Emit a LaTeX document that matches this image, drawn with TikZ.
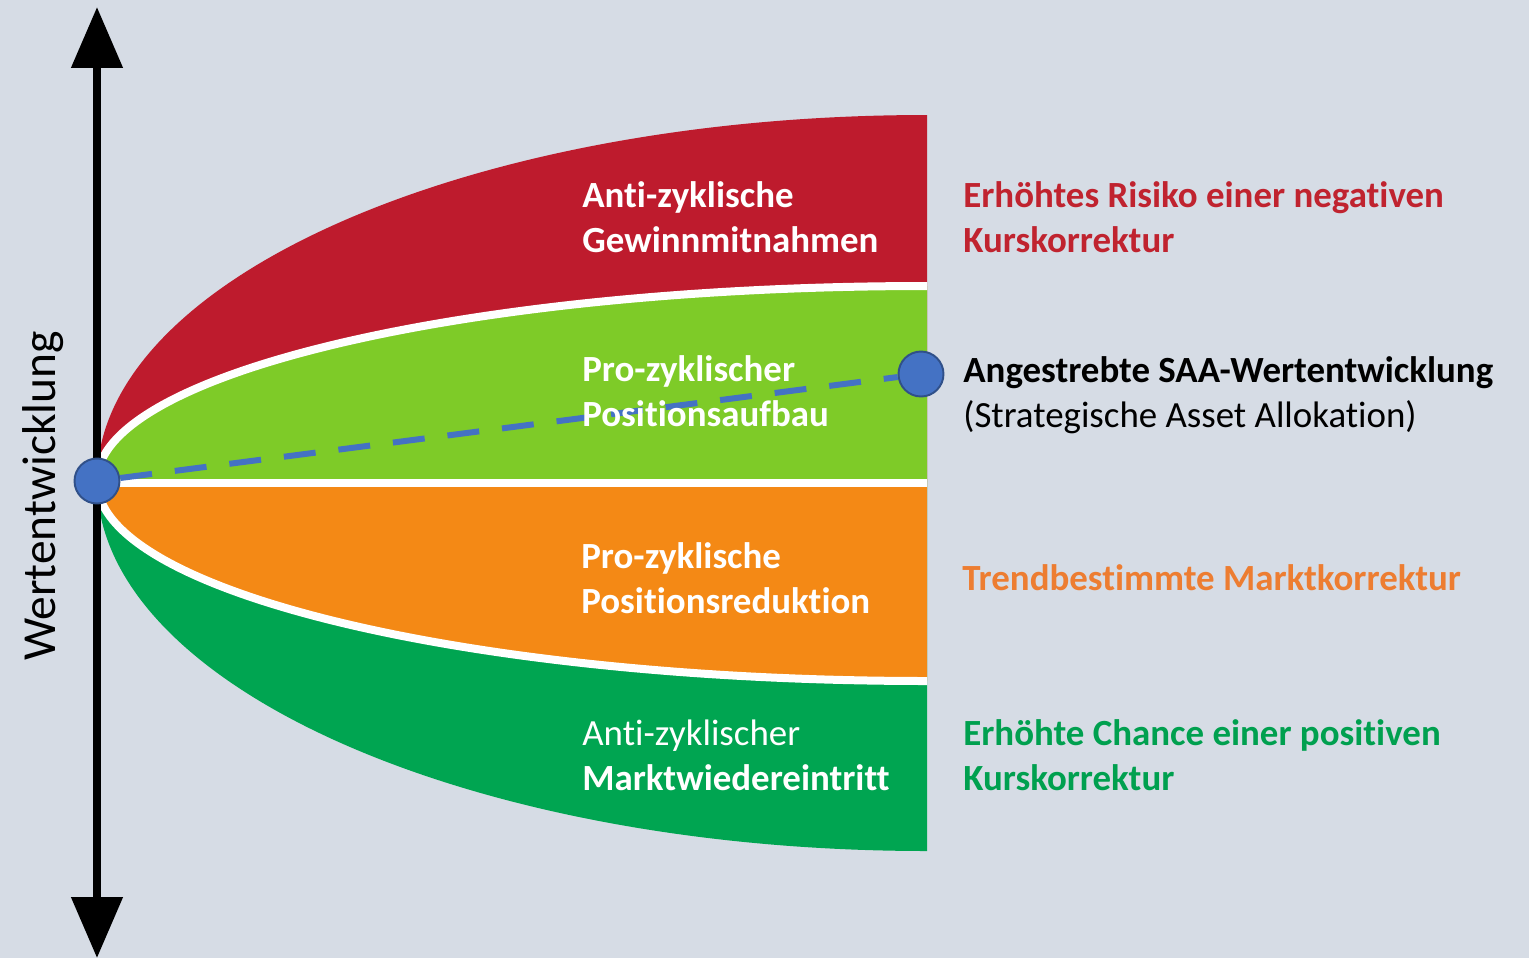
\documentclass[tikz,border=0pt]{standalone}
\usepackage{fontspec}
\setmainfont{Carlito}[Ligatures=NoCommon]
\usetikzlibrary{arrows.meta}

\definecolor{bggray}{HTML}{D6DCE5}
\definecolor{riskred}{HTML}{BE1B2D}
\definecolor{buildlime}{HTML}{7ECB28}
\definecolor{cutorange}{HTML}{F48915}
\definecolor{reentrygreen}{HTML}{00A551}
\definecolor{saablue}{HTML}{4472C4}
\definecolor{txtred}{HTML}{C0232F}
\definecolor{txtorange}{HTML}{ED7D31}
\definecolor{txtgreen}{HTML}{00A04F}

\begin{document}
\begin{tikzpicture}[x=0.02cm, y=-0.02cm,
  lbl/.style={anchor=base west, inner sep=0pt, align=left,
              font=\fontsize{21}{25.5}\selectfont},
  sep/.style={white, line width=0.16cm},
  dot/.style={circle, fill=saablue, draw=saablue!70!black, line width=1.1pt,
              minimum size=0.9cm, inner sep=0pt},
  axis/.style={line width=0.16cm,
               {Triangle[length=1.22cm, width=1cm]}-{Triangle[length=1.22cm, width=1cm]}}]
  %================= Parameters (pixel grid) =================
  \def\ox{97}     % start point on the value axis
  \def\oy{481}
  \def\xr{927}    % right end of the bands
  \def\rx{830}    % horizontal half axis of every band
  \def\rtop{366}  % outer arc, upper side
  \def\rup{195}   % inner arc, upper side
  \def\rdn{200}   % inner arc, lower side
  \def\rbot{370}  % outer arc, lower side
  \def\xl{582}    % text column inside the bands
  \def\xt{963}    % text column right of the bands
  % (two-line labels sit on the baseline of their last line)

  \fill[bggray] (0,0) rectangle (1529,958);
  \useasboundingbox (0,0) rectangle (1529,958);

  %================= Bands =================
  \fill[riskred] (\ox,\oy) arc[start angle=180, end angle=270, x radius=\rx, y radius=\rtop]
    -- (\xr,\oy) -- cycle;
  \fill[buildlime] (\ox,\oy) arc[start angle=180, end angle=270, x radius=\rx, y radius=\rup]
    -- (\xr,\oy) -- cycle;
  \fill[reentrygreen] (\ox,\oy) arc[start angle=180, end angle=90, x radius=\rx, y radius=\rbot]
    -- (\xr,\oy) -- cycle;
  \fill[cutorange] (\ox,\oy) arc[start angle=180, end angle=90, x radius=\rx, y radius=\rdn]
    -- (\xr,\oy) -- cycle;
  % white separators
  \draw[sep] (\ox,\oy) arc[start angle=180, end angle=270, x radius=\rx, y radius=\rup];
  \draw[sep] (\ox,\oy) arc[start angle=180, end angle=90, x radius=\rx, y radius=\rdn];
  \draw[sep] (\ox,483) -- (\xr,483);

  %================= Value axis =================
  \coordinate (axtop) at (\ox,7);
  \coordinate (axbot) at (\ox,958);
  \draw[axis] (axtop) -- (axbot);
  \node[rotate=90, anchor=base, inner sep=0pt, font=\fontsize{27}{30}\selectfont]
    (axlabel) at (55,496) {Wertentwicklung};

  %================= SAA path =================
  \node[dot] (start) at (\ox,\oy) {};
  \node[dot] (target) at (921,374) {};
  \draw[saablue, line width=0.12cm, dash pattern=on 0.64cm off 0.46cm] (start) -- (target);

  %================= Band labels =================
  \node[lbl, white] (gain) at (\xl,252) {\textbf{Anti-zyklische}\\\textbf{Gewinnmitnahmen}};
  \node[lbl, white] (build) at (\xl,426) {\textbf{Pro-zyklischer}\\\textbf{Positionsaufbau}};
  \node[lbl, white] (cut) at (581,613) {\textbf{Pro-zyklische}\\\textbf{Positionsreduktion}};
  \node[lbl, white] (reentry) at (\xl,790) {Anti-zyklischer\\\textbf{Marktwiedereintritt}};

  %================= Right-hand notes =================
  \node[lbl, txtred] (risk) at (\xt,252) {\textbf{Erhöhtes Risiko einer negativen}\\\textbf{Kurskorrektur}};
  \node[lbl] (saa) at (\xt,427) {\textbf{Angestrebte SAA-Wertentwicklung}\\(Strategische Asset Allokation)};
  \node[lbl, txtorange] (trend) at (962,590) {\textbf{Trendbestimmte Marktkorrektur}};
  \node[lbl, txtgreen] (chance) at (\xt,790) {\textbf{Erhöhte Chance einer positiven}\\\textbf{Kurskorrektur}};
\end{tikzpicture}
\end{document}
